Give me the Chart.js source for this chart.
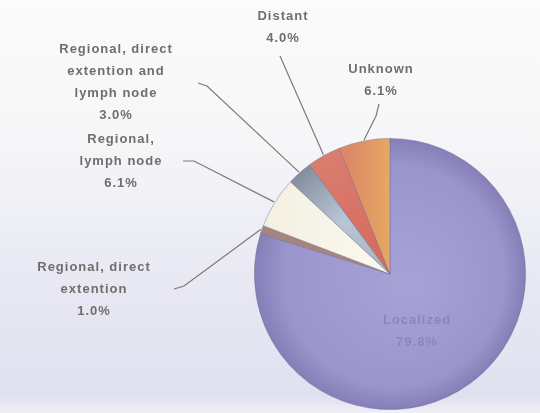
<!DOCTYPE html>
<html lang="en">
<head>
<meta charset="UTF-8">
<title>Stage distribution</title>
<script src="https://cdn.jsdelivr.net/npm/chart.js"></script>
<style>
  html, body {
    margin: 0;
    padding: 0;
  }
  body {
    width: 540px;
    height: 413px;
    overflow: hidden;
    background: linear-gradient(to bottom, #fbfbfb 0%, #f6f6f8 35%, #ebebf5 60%, #e0e0f0 96%, #f0f0f6 100%);
  }
  #wrap {
    position: relative;
    width: 540px;
    height: 413px;
  }
</style>
</head>
<body>
<div id="wrap"><canvas id="pie"></canvas></div>
<script>
// data, clockwise from 12 o'clock
const stages = ['Localized', 'Regional, direct extention', 'Regional, lymph node',
                'Regional, direct extention and lymph node', 'Distant', 'Unknown'];
const percents = [79.8, 1.0, 6.1, 3.0, 4.0, 6.1];
const labelLines = [
  ['Localized', '79.8%'],
  ['Regional, direct', 'extention', '1.0%'],
  ['Regional,', 'lymph node', '6.1%'],
  ['Regional, direct', 'extention and', 'lymph node', '3.0%'],
  ['Distant', '4.0%'],
  ['Unknown', '6.1%']
];

// where each label sits (centre x, first baseline y) and where its leader starts
const labelPos = [
  { x: 417, y: 324, inside: true },
  { x: 94, y: 271, from: [[174, 289], [184, 286]] },
  { x: 121, y: 143, from: [[183, 161], [194, 161]] },
  { x: 116, y: 53, from: [[198, 83], [207, 86]] },
  { x: 283, y: 20, from: [[280, 56]] },
  { x: 381, y: 73, from: [[379, 104], [376, 116]] }
];

function sliceFill(ctx) {
  const chart = ctx.chart;
  const area = chart.chartArea;
  if (!area) return '#9a96cc';
  const c = chart.ctx;
  const cx = (area.left + area.right) / 2;
  const cy = (area.top + area.bottom) / 2;
  const r = Math.min(area.right - area.left, area.bottom - area.top) / 2;
  let g;
  switch (ctx.dataIndex) {
    case 0:
      g = c.createRadialGradient(cx + 20, cy + 10, 10, cx, cy, r);
      g.addColorStop(0, '#a6a2d6');
      g.addColorStop(0.8, '#9a95cb');
      g.addColorStop(1, '#857eb8');
      return g;
    case 1:
      return '#a6857f';
    case 2:
      g = c.createLinearGradient(cx - r, cy, cx, cy);
      g.addColorStop(0, '#f3efe2');
      g.addColorStop(1, '#fbf8ee');
      return g;
    case 3:
      g = c.createLinearGradient(cx - r * 0.7, cy - r * 0.8, cx, cy);
      g.addColorStop(0, '#7b8696');
      g.addColorStop(0.5, '#b9c6d6');
      g.addColorStop(1, '#a6b2c2');
      return g;
    case 4:
      g = c.createLinearGradient(cx - r * 0.5, cy - r, cx, cy);
      g.addColorStop(0, '#d98070');
      g.addColorStop(1, '#d6685e');
      return g;
    default:
      g = c.createLinearGradient(cx - r * 0.3, cy, cx, cy);
      g.addColorStop(0, '#dc8a66');
      g.addColorStop(1, '#e6a863');
      return g;
  }
}

const labelPlugin = {
  id: 'stageLabels',
  afterDraw(chart) {
    const c = chart.ctx;
    const arcs = chart.getDatasetMeta(0).data;
    c.save();
    c.font = 'bold 13px "Liberation Sans", Arial, sans-serif';
    c.letterSpacing = '1px';
    c.textAlign = 'center';
    c.textBaseline = 'alphabetic';
    arcs.forEach((arc, i) => {
      const p = labelPos[i];
      const lines = labelLines[i];
      c.fillStyle = p.inside ? '#8b87ba' : '#6e6e6e';
      lines.forEach((t, k) => c.fillText(t, p.x, p.y + k * 22));
      if (p.from) {
        const mid = (arc.startAngle + arc.endAngle) / 2;
        const rr = arc.outerRadius + 1;
        const ex = arc.x + Math.cos(mid) * rr;
        const ey = arc.y + Math.sin(mid) * rr;
        c.strokeStyle = '#7a7a7a';
        c.lineWidth = 1.2;
        c.beginPath();
        c.moveTo(p.from[0][0], p.from[0][1]);
        for (let k = 1; k < p.from.length; k++) c.lineTo(p.from[k][0], p.from[k][1]);
        c.lineTo(ex, ey);
        c.stroke();
      }
    });
    c.restore();
  }
};

new Chart(document.getElementById('pie'), {
  type: 'pie',
  data: {
    labels: stages,
    datasets: [{
      data: percents,
      backgroundColor: sliceFill,
      borderColor: 'rgba(110,105,140,0.55)',
      borderWidth: 0.8
    }]
  },
  options: {
    responsive: true,
    maintainAspectRatio: false,
    animation: false,
    layout: { padding: { left: 254, right: 14, top: 138, bottom: 3 } },
    plugins: {
      legend: { display: false },
      tooltip: { enabled: false }
    }
  },
  plugins: [labelPlugin]
});
</script>
</body>
</html>
